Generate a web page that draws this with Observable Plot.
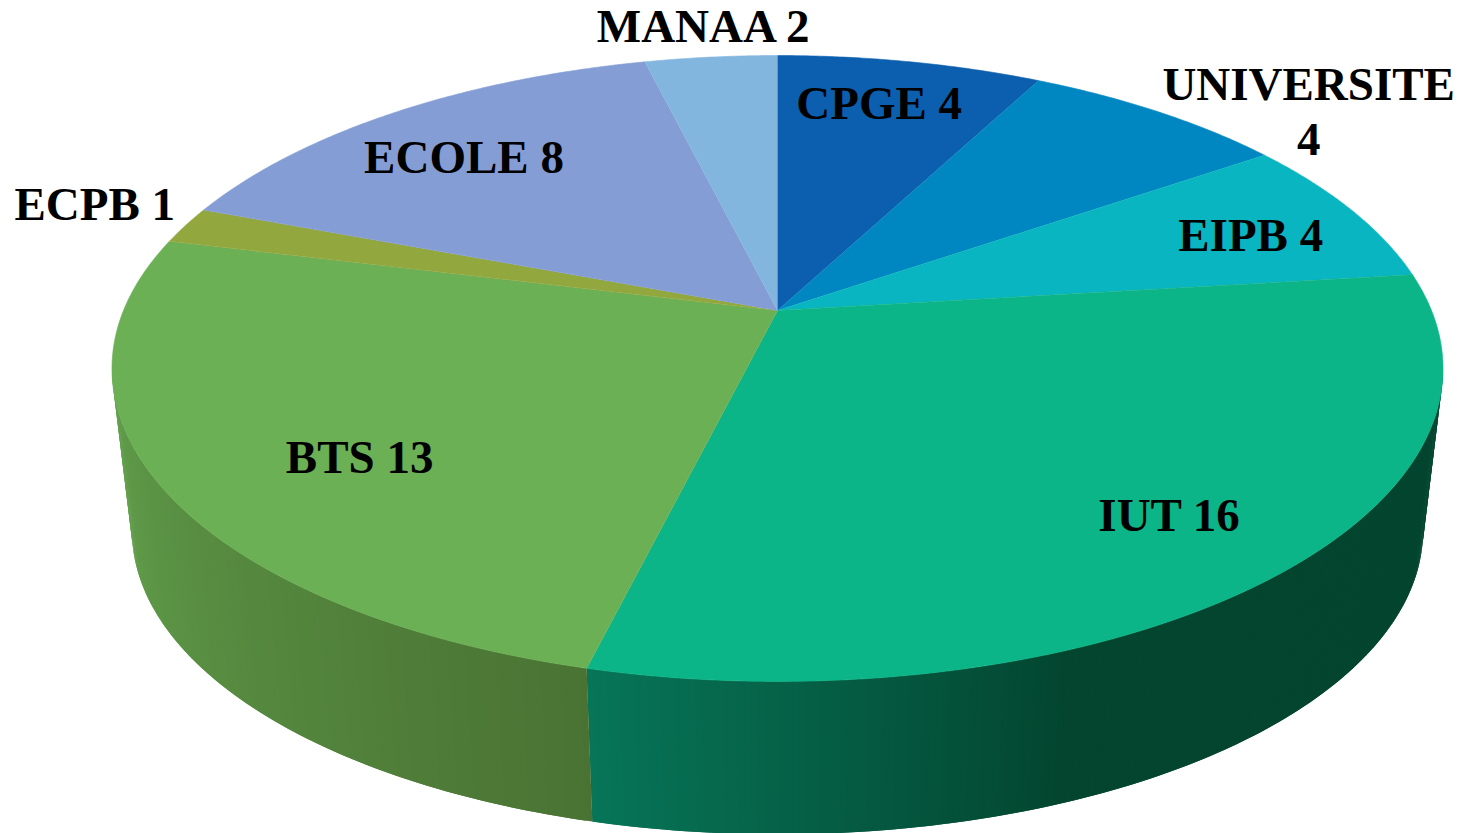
<!DOCTYPE html>
<html><head><meta charset="utf-8">
<script src="https://cdn.jsdelivr.net/npm/d3@7"></script>
<script src="https://cdn.jsdelivr.net/npm/@observablehq/plot@0.6"></script>
<style>html,body{margin:0;padding:0;background:#fff}svg{display:block}</style>
</head><body><div id="chart"></div>
<script>
const categories = ["CPGE","UNIVERSITE","EIPB","IUT","BTS","ECPB","ECOLE","MANAA"];
const counts = [4,4,4,16,13,1,8,2];
const labels = ["CPGE 4","UNIVERSITE\n4","EIPB 4","IUT 16","BTS 13","ECPB 1","ECOLE 8","MANAA 2"];
const topColors = ["#0b5fae","#0086c0","#08b5c0","#0cb587","#6cb056","#92a83e","#849dd4","#82b6de"];

// label placement in pie space: radius and turn from the slice's mid-angle
const labelRadius = [0.80,1.187,0.80,0.805,0.738,1.176,0.766,1.141];
const labelTurn = [-1,9.6,2.1,0.2,-6.3,1.1,-2.1,0];

// perspective of the pie plane
const W = 1462, H = 833;
const tilt = 0.1853;
const rimScale = 0.97, rimDrop = 0.5427;
const rad = d => d * Math.PI / 180;
const proj = (deg, r = 1, scale = 1, drop = 0) => {
  const u = r * Math.sin(rad(deg)), v = r * Math.cos(rad(deg)), d = 1 + tilt * v;
  return {x: scale * u / d, y: scale * v / d - drop};
};
const total = d3.sum(counts);
let acc = 0;
const slices = categories.map((name, i) => {
  const start = acc / total * 360; acc += counts[i];
  return {name, i, start, end: acc / total * 360, mid: (start + acc / total * 360) / 2};
});

const topPts = slices.flatMap(s => {
  const n = Math.max(2, Math.ceil((s.end - s.start) * 2));
  const pts = [{...proj(0, 0), s: s.name, c: topColors[s.i]}];
  for (let j = 0; j <= n; j++) pts.push({...proj(s.start + (s.end - s.start) * j / n), s: s.name, c: topColors[s.i]});
  return pts;
});

// side wall, one run per visible slice, ending where the wall meets the silhouette
const rightEdge = Math.acos(-tilt) * 180 / Math.PI, leftEdge = 360 - rightEdge;
const split = slices.find(s => s.name === "BTS").start;
const sideRuns = [
  [rightEdge, split, [[rightEdge,"#03452f"],[158,"#03452f"],[split,"#077558"]]],
  [split, leftEdge, [[split,"#4a7333"],[leftEdge,"#62a04c"]]]
];
const sidePts = [];
sideRuns.forEach(([from, to, stops], r) => {
  const shade = d3.scaleLinear().domain(stops.map(d => d[0])).range(stops.map(d => d[1])).interpolate(d3.interpolateRgb);
  const n = Math.ceil((to - from) * 2), step = (to - from) / n;
  for (let j = 0; j < n; j++) {
    const deg = from + j * step;
    // each strip runs under the next one, so no seam shows between them
    const next = Math.min(j === n - 1 ? to : deg + 2 * step, to), c = shade(deg + step / 2), id = r + "-" + j;
    sidePts.push({...proj(deg), id, c}, {...proj(next), id, c},
                 {...proj(next, 1, rimScale, rimDrop), id, c}, {...proj(deg, 1, rimScale, rimDrop), id, c});
  }
});
const labelData = slices.map((s, i) => ({...proj(s.mid + labelTurn[i], labelRadius[i]), t: labels[i]}));

const A = 654, B = 302.2, cx = 777, cy = 310;
const plot = Plot.plot({
  width: W, height: H, margin: 0,
  x: {domain: [-cx / A, (W - cx) / A], range: [0, W], axis: null},
  y: {domain: [-(H - cy) / B, cy / B], range: [H, 0], axis: null},
  color: {type: "identity"},
  style: {background: "#fff"},
  marks: [
    Plot.line(sidePts, {x: "x", y: "y", z: "id", fill: "c", stroke: "none", clip: true}),
    Plot.line(topPts, {x: "x", y: "y", z: "s", fill: "c", stroke: "c", strokeWidth: 0.6}),
    Plot.text(labelData, {x: "x", y: "y", dy: -3, text: "t", fill: "#000", fontSize: 47, fontWeight: "bold",
      fontFamily: "Liberation Serif", lineHeight: 1.18})
  ]
});
document.getElementById("chart").append(plot);
</script></body></html>
